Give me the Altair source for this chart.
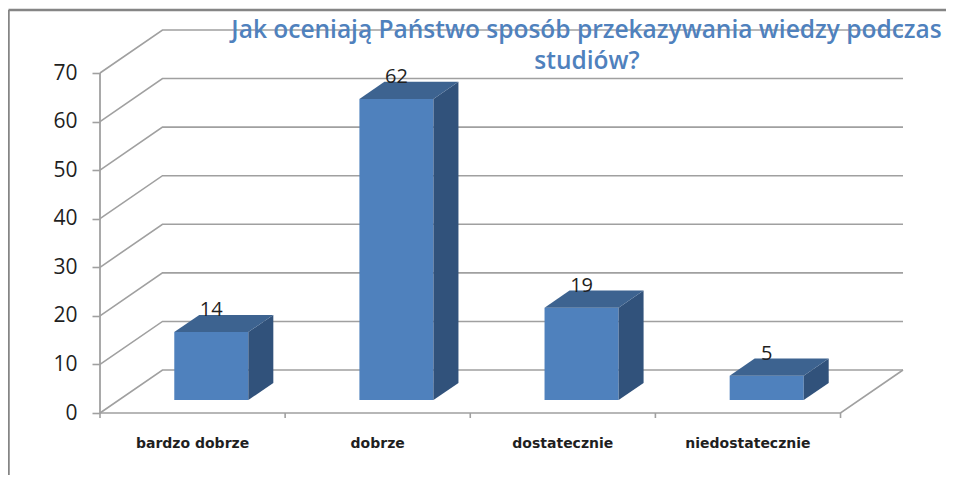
import altair as alt
import pandas as pd

categories = ["bardzo dobrze", "dobrze", "dostatecznie", "niedostatecznie"]
values = [14, 62, 19, 5]
y_ticks = [0, 10, 20, 30, 40, 50, 60, 70]
x_ticks = [0, 1, 2, 3, 4]
title_lines = ["Jak oceniają Państwo sposób  przekazywania wiedzy podczas", "studiów?"]

# oblique projection of the depth axis, in data units
DX = 0.3375
DY = 8.853
BAR_W = 0.4
D0, D1 = 0.3, 0.7
GRID = "#a0a0a0"
FRONT = "#4f81bd"
TOP = "#3d6390"
SIDE = "#31527b"
FRAME = "#858585"
INK = "#1f1f1f"

xs = alt.Scale(domain=[0, 4 + DX], nice=False, zero=False)
ys = alt.Scale(domain=[0, 70 + DY], nice=False, zero=False)
y_axis = alt.Axis(
    orient="left", values=y_ticks, title=None, domain=False, grid=False, tickColor=GRID, tickSize=8,
    tickWidth=1.6, labelFont="Open Sans", labelFontSize=21, labelColor=INK, labelPadding=15,
)
X = lambda f: alt.X(f, type="quantitative", scale=xs, axis=None)
Y = lambda f: alt.Y(f, type="quantitative", scale=ys, axis=y_axis)

# wall: diagonal + back line per gridline, then the floor's outline
wall = []
for v in y_ticks:
    wall += [
        {"k": v, "u": 0, "v": v},
        {"k": v, "u": DX, "v": v + DY},
        {"k": v, "u": 4 + DX, "v": v + DY},
    ]
wall += [{"k": -1, "u": 4 + DX, "v": DY}, {"k": -1, "u": 4, "v": 0}, {"k": -1, "u": 0, "v": 0}]
grid = alt.Chart(pd.DataFrame(wall)).transform_window(o="row_number()").mark_line(
    color=GRID, strokeWidth=1.6, strokeJoin="miter"
).encode(x=X("u"), y=Y("v"), detail="k:N", order=alt.Order("o:Q"))

# y axis line
axis_y = alt.Chart(pd.DataFrame({"u": [0, 0], "v": [0, 70]})).mark_line(
    color=GRID, strokeWidth=1.8
).encode(x=X("u"), y=Y("v"))

# x-axis ticks on whole units, labels on band centres
cat_df = pd.DataFrame({"c": categories, "v": values, "i": range(4)})
ticks_x = alt.Chart(pd.DataFrame({"u": x_ticks})).mark_rule(color=GRID, strokeWidth=1.6).encode(
    x=X("u"), y=alt.value(383), y2=alt.value(388)
)
cat_labels = alt.Chart(cat_df).transform_calculate(u="datum.i + 0.5").mark_text(
    font="DejaVu Sans", fontWeight="bold", fontSize=14, color=INK, baseline="middle"
).encode(x=X("u:Q"), y=alt.value(414), text="c:N")

# bars
base = alt.Chart(cat_df).transform_calculate(
    x0=f"datum.i + 0.5 - {BAR_W/2} + {D0}*{DX}",
    x1=f"datum.i + 0.5 + {BAR_W/2} + {D0}*{DX}",
    y0=f"{D0}*{DY}",
    yt=f"datum.v + {D0}*{DY}",
    xm=f"datum.i + 0.5 + {D0}*{DX}",
)
front = base.mark_rect(color=FRONT).encode(x=X("x0:Q"), x2="x1:Q", y=Y("y0:Q"), y2="yt:Q")


def face_rows(kind):
    rows = []
    for i, v in enumerate(values):
        x0 = i + 0.5 - BAR_W / 2 + D0 * DX
        x1 = i + 0.5 + BAR_W / 2 + D0 * DX
        xb = i + 0.5 + BAR_W / 2 + D1 * DX
        xl = i + 0.5 - BAR_W / 2 + D1 * DX
        if kind == "side":
            rows += [
                {"i": i, "u": x1, "a": D0 * DY, "b": v + D0 * DY},
                {"i": i, "u": xb, "a": D1 * DY, "b": v + D1 * DY},
            ]
        else:
            rows += [
                {"i": i, "v": v + D0 * DY, "a": x0, "b": x1},
                {"i": i, "v": v + D1 * DY, "a": xl, "b": xb},
            ]
    return pd.DataFrame(rows)


side = alt.Chart(face_rows("side")).mark_area(color=SIDE, orient="vertical").encode(
    x=X("u"), y=Y("a"), y2="b:Q", detail="i:N"
)
top = alt.Chart(face_rows("top")).mark_area(color=TOP, orient="horizontal").encode(
    y=Y("v"), x=X("a"), x2="b:Q", detail="i:N"
)
val_labels = base.mark_text(font="Open Sans", fontSize=20, color=INK, baseline="middle", dy=-22).encode(
    x=X("xm:Q"), y=Y("yt:Q"), text="v:Q"
)

# chart title: two centred lines overlapping the wall
title_1 = alt.Chart(pd.DataFrame({"t": [title_lines[0]]})).mark_text(
    font="Open Sans", fontWeight=600, fontSize=24.5, color=FRONT, baseline="middle"
).encode(x=alt.value(486.5), y=alt.value(1), text="t:N")
title_2 = alt.Chart(pd.DataFrame({"t": [title_lines[1]]})).mark_text(
    font="Open Sans", fontWeight=600, fontSize=24.5, color=FRONT, baseline="middle"
).encode(x=alt.value(487), y=alt.value(32), text="t:N")

# picture frame
frame_l = alt.Chart(pd.DataFrame({"a": [0]})).mark_rule(color=FRAME, strokeWidth=2.5).encode(
    x=alt.value(-91.5), y=alt.value(-20), y2=alt.value(445)
)
frame_t = alt.Chart(pd.DataFrame({"a": [0]})).mark_rule(color=FRAME, strokeWidth=2.5).encode(
    x=alt.value(-91.5), x2=alt.value(846), y=alt.value(-20)
)

chart = alt.layer(
    grid, axis_y, ticks_x, front, side, top, cat_labels, val_labels, title_1, title_2, frame_l, frame_t
).properties(
    width=803, height=383,
    padding={"left": 92, "top": 22, "right": 43, "bottom": 62},
    autosize="none",
).configure_view(stroke=None)

chart.save("out.html", embed_options={"renderer": "svg", "actions": False})
